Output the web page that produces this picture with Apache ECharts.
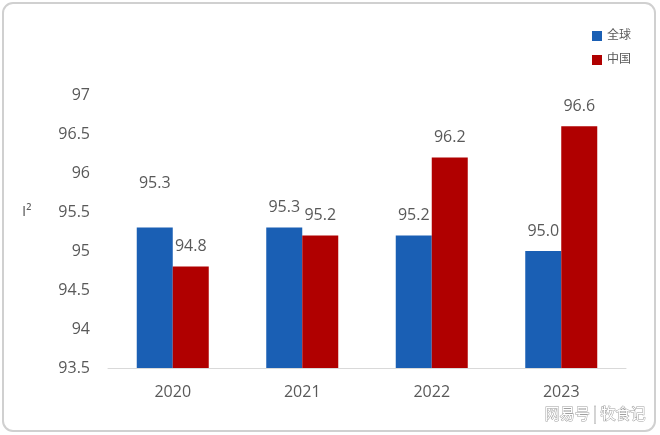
<!DOCTYPE html>
<html><head><meta charset="utf-8">
<script src="https://cdn.jsdelivr.net/npm/echarts@6/dist/echarts.min.js"></script>
<style>html,body{margin:0;padding:0;background:#fff}#c{width:660px;height:435px}</style>
</head><body><div id="c"></div>
<script>
const categories = ['2020', '2021', '2022', '2023'];
const globalValues = [95.3, 95.3, 95.2, 95.0];
const chinaValues = [94.8, 95.2, 96.2, 96.6];
const seriesNames = ['全球', '中国'];
const yMin = 93.5, yMax = 97, yStep = 0.5;

const chart = echarts.init(document.getElementById('c'));
const font = '"Open Sans", "Noto Sans CJK SC", sans-serif';
const lblStyle = {show: true, position: 'top', color: '#595959', fontSize: 16, fontFamily: font, distance: 12,
  formatter: p => p.value.toFixed(1)};
chart.setOption({
  animation: false,
  graphic: [
    {type: 'rect', shape: {x: 3, y: 3, width: 652, height: 428, r: 10}, style: {fill: 'none', stroke: '#d0d0d0', lineWidth: 2}, z: -1},
    {type: 'text', left: 22, top: 204, style: {text: 'I²', fill: '#595959', fontSize: 15, fontFamily: font}},
    {type: 'text', right: 14, top: 405, style: {text: '网易号 | 牧食记', fill: '#ffffff', stroke: '#a0a0a0', lineWidth: 1, fontSize: 15, fontFamily: '"Noto Sans CJK SC", sans-serif'}}
  ],
  legend: {
    orient: 'vertical', right: 24, top: 25, itemWidth: 10, itemHeight: 10, itemGap: 12,
    icon: 'rect', textStyle: {color: '#595959', fontSize: 12, fontFamily: font}, data: seriesNames
  },
  grid: {left: 108, right: 34, top: 95, bottom: 67},
  xAxis: {
    type: 'category', data: categories,
    axisLine: {lineStyle: {color: '#d9d9d9', width: 1}}, axisTick: {show: false},
    axisLabel: {color: '#595959', fontSize: 16, fontFamily: font, margin: 16}
  },
  yAxis: {
    type: 'value', min: yMin, max: yMax, interval: yStep,
    axisLine: {show: false}, axisTick: {show: false}, splitLine: {show: false},
    axisLabel: {color: '#595959', fontSize: 16, fontFamily: font, margin: 18}
  },
  series: [
    {name: seriesNames[0], type: 'bar', barWidth: 36, barGap: '0%', itemStyle: {color: '#1a5fb4'},
     label: lblStyle,
     data: globalValues.map((v, i) => i === 0 ? {value: v, label: {distance: 36}} : v)},
    {name: seriesNames[1], type: 'bar', barWidth: 36, itemStyle: {color: '#b00000'},
     label: lblStyle, data: chinaValues}
  ]
});
</script></body></html>
